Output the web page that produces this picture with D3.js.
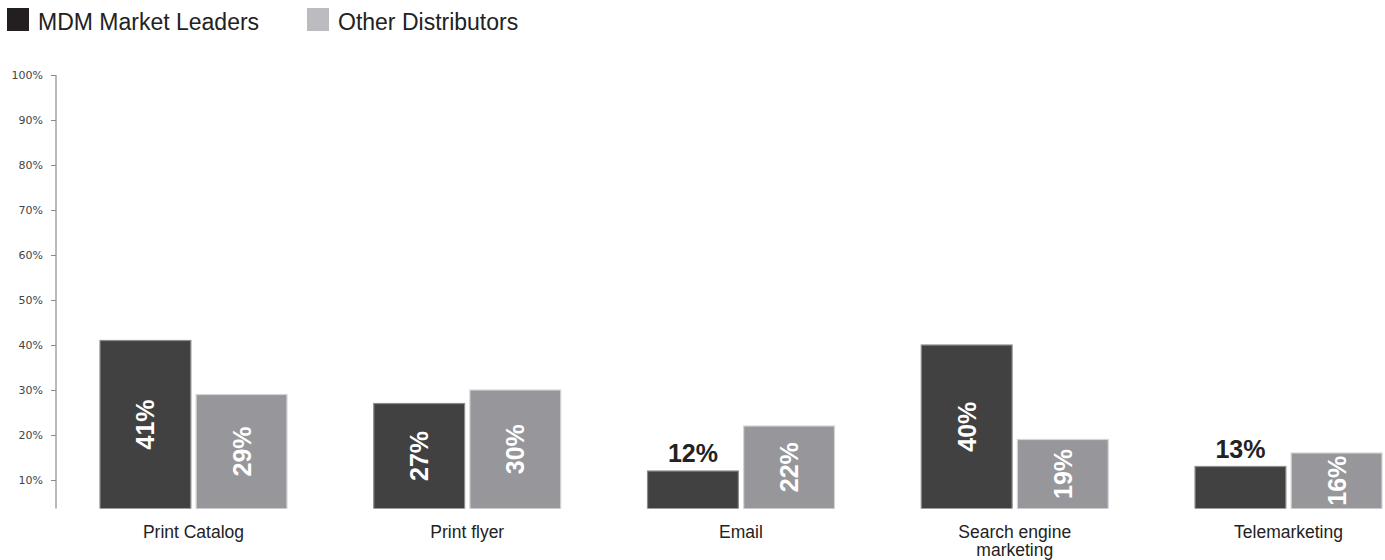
<!DOCTYPE html>
<html>
<head>
<meta charset="utf-8">
<script src="https://cdn.jsdelivr.net/npm/d3@7"></script>
<style>
  html, body { margin: 0; padding: 0; background: #fff; }
  svg { display: block; }
</style>
</head>
<body>
<svg id="chart" width="1385" height="560"></svg>
<script>
// Share of distributors using each marketing channel
const categories = ["Print Catalog", "Print flyer", "Email", "Search engine marketing", "Telemarketing"];
const seriesNames = ["MDM Market Leaders", "Other Distributors"];
const leaders = [0.41, 0.27, 0.12, 0.40, 0.13];
const others = [0.29, 0.30, 0.22, 0.19, 0.16];
const tickValues = [0.1, 0.2, 0.3, 0.4, 0.5, 0.6, 0.7, 0.8, 0.9, 1.0];

const fills = ["#414141", "#97979b"];
const strokes = ["#8c8c8c", "#d4d4d6"];
const legendFills = ["#231f20", "#bcbcc0"];

const svg = d3.select("#chart");

const axisX = 56;
const plotBottom = 508.5;

const y = d3.scaleLinear().domain([0, 1]).range([525, 75]);
const x = d3.scaleBand().domain(categories).range([100, 1382]).paddingInner(0.317).paddingOuter(0);
const xs = d3.scaleBand().domain(seriesNames).range([0, x.bandwidth()]).paddingInner(0.055).paddingOuter(0);

// Legend
const legend = svg.append("g");
const legendX = [7, 307];
seriesNames.forEach((name, i) => {
  legend.append("rect")
    .attr("x", legendX[i]).attr("y", 8)
    .attr("width", 22).attr("height", 23)
    .attr("fill", legendFills[i]);
  legend.append("text")
    .attr("x", legendX[i] + 31).attr("y", 29.5)
    .attr("font-family", "'Liberation Sans', Arial, sans-serif")
    .attr("font-size", 23)
    .attr("fill", "#222")
    .text(name);
});

// Y axis
const yAxis = d3.axisLeft(y).tickValues(tickValues).tickSize(5).tickPadding(8)
  .tickFormat(d3.format(".0%"));
const gy = svg.append("g").attr("transform", `translate(${axisX},0)`).call(yAxis);
gy.select(".domain").remove();
gy.selectAll(".tick line").attr("stroke", "#8a8a8a");
gy.selectAll(".tick text")
  .attr("font-family", "'DejaVu Sans', Verdana, sans-serif")
  .attr("font-size", 11)
  .attr("fill", "#444");
svg.append("line")
  .attr("x1", axisX).attr("x2", axisX)
  .attr("y1", y(1)).attr("y2", plotBottom)
  .attr("stroke", "#8a8a8a").attr("stroke-width", 1.2);

// Bars are cut at the bottom of the plot area
svg.append("clipPath").attr("id", "plotClip")
  .append("rect").attr("x", 0).attr("y", 0).attr("width", 1385).attr("height", plotBottom);

const rows = [];
categories.forEach((c, i) => {
  rows.push({ cat: c, series: seriesNames[0], s: 0, value: leaders[i] });
  rows.push({ cat: c, series: seriesNames[1], s: 1, value: others[i] });
});

const bars = svg.append("g").attr("clip-path", "url(#plotClip)");
bars.selectAll("rect").data(rows).join("rect")
  .attr("x", d => x(d.cat) + xs(d.series))
  .attr("y", d => y(d.value))
  .attr("width", xs.bandwidth())
  .attr("height", d => y(0) - y(d.value))
  .attr("fill", d => fills[d.s])
  .attr("stroke", d => strokes[d.s])
  .attr("stroke-width", 1.2);

// Value labels: rotated inside tall bars, horizontal above short ones
const fmt = d3.format(".0%");
const labels = svg.append("g")
  .attr("font-family", "'Liberation Sans', Arial, sans-serif")
  .attr("font-weight", "bold")
  .attr("font-size", 25);
rows.forEach(d => {
  const cx = x(d.cat) + xs(d.series) + xs.bandwidth() / 2;
  const top = y(d.value);
  const visible = plotBottom - top;
  if (visible >= 50) {
    const cy = top + visible / 2;
    labels.append("text")
      .attr("transform", `translate(${cx},${cy}) rotate(-90)`)
      .attr("text-anchor", "middle")
      .attr("dy", "0.36em")
      .attr("fill", "#fff")
      .text(fmt(d.value));
  } else {
    labels.append("text")
      .attr("x", cx).attr("y", top - 9)
      .attr("text-anchor", "middle")
      .attr("fill", "#222")
      .text(fmt(d.value));
  }
});

// Category labels, wrapped onto two lines where long
const catLines = { "Search engine marketing": ["Search engine", "marketing"] };
const catG = svg.append("g")
  .attr("font-family", "'Liberation Sans', Arial, sans-serif")
  .attr("font-size", 17.5)
  .attr("fill", "#222");
categories.forEach(c => {
  const t = catG.append("text")
    .attr("x", x(c) + x.bandwidth() / 2)
    .attr("y", 538)
    .attr("text-anchor", "middle");
  (catLines[c] || [c]).forEach((line, i) => {
    t.append("tspan")
      .attr("x", x(c) + x.bandwidth() / 2)
      .attr("dy", i === 0 ? 0 : 17.5)
      .text(line);
  });
});
</script>
</body>
</html>
